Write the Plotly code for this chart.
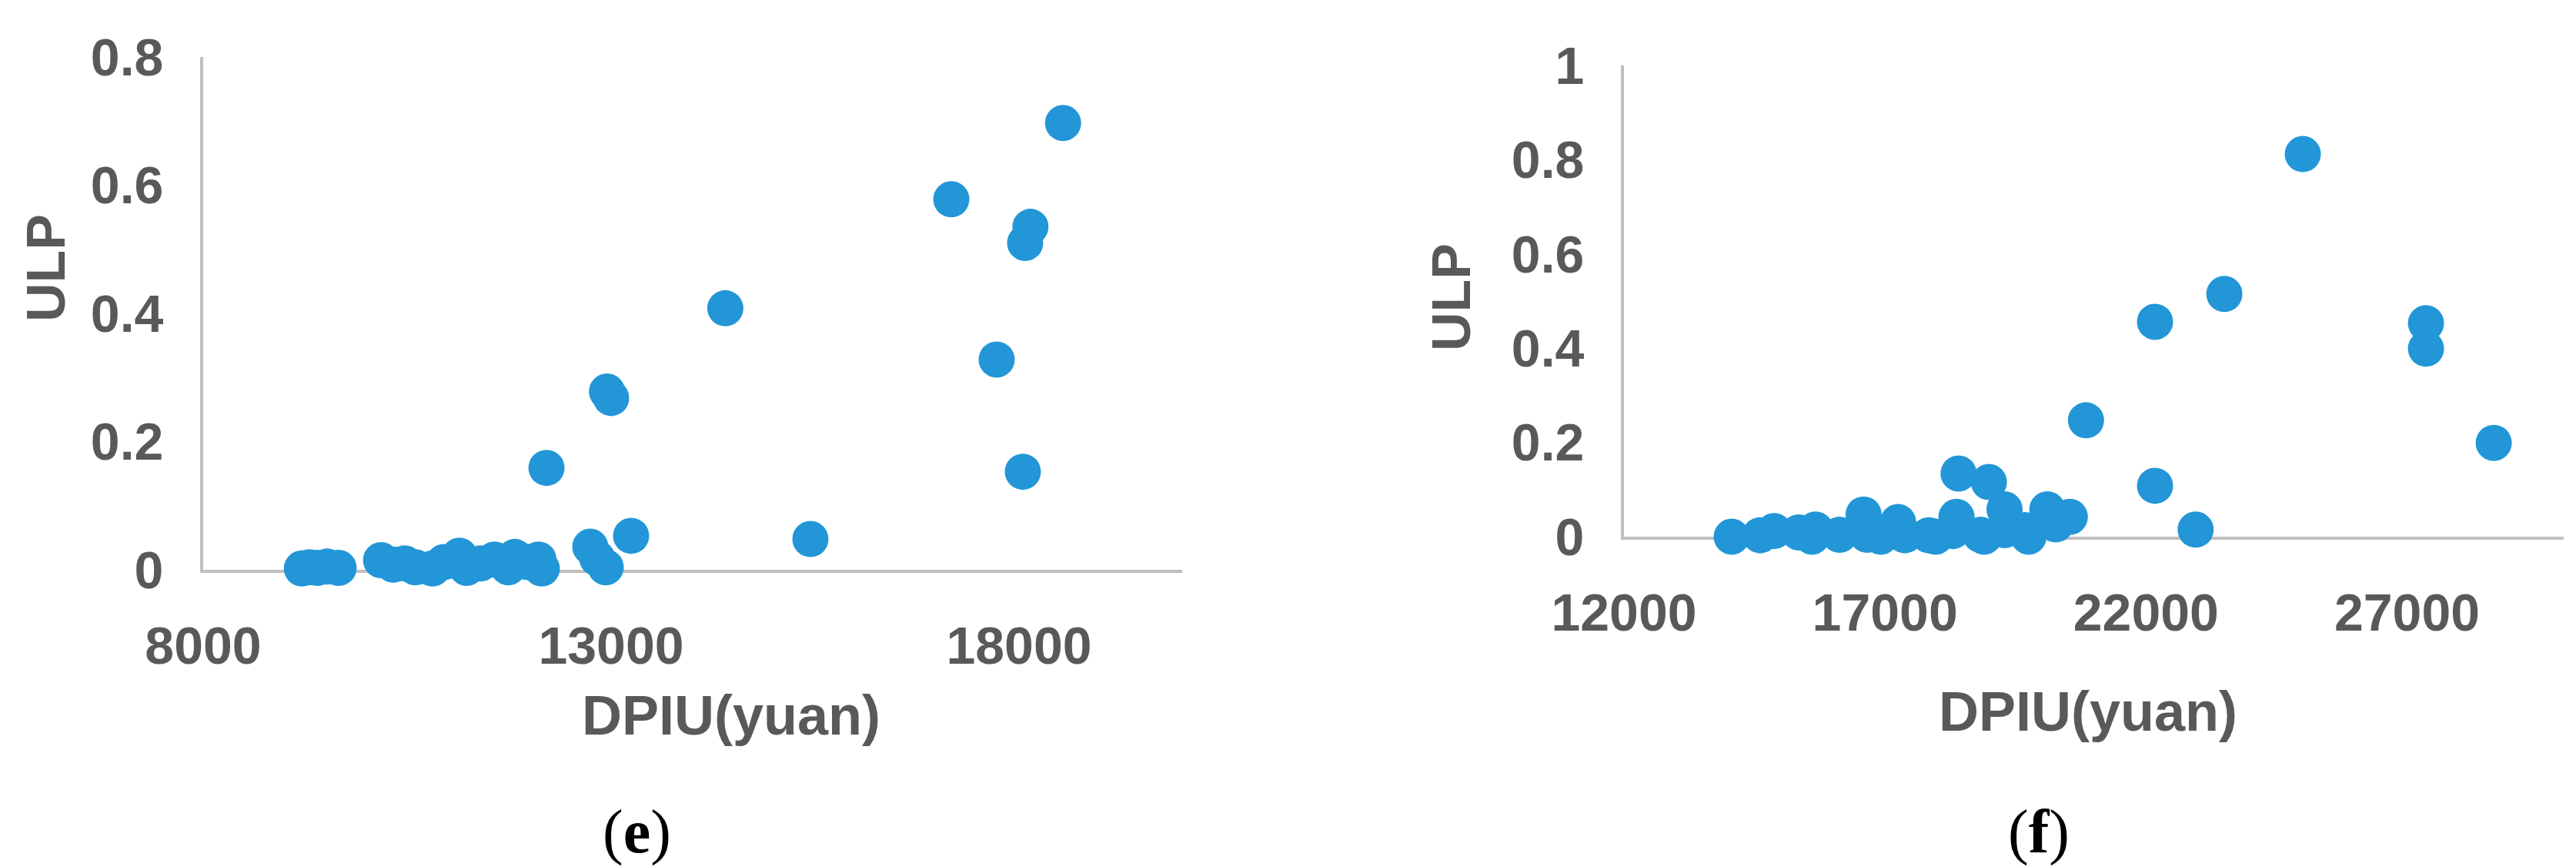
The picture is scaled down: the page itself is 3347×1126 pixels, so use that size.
import plotly.graph_objects as go

# ---------------- data ----------------
# panel (e)
dpiu_e = [9210, 9300, 9400, 9520, 9660,
          10180, 10330, 10470, 10600, 10810, 10950, 11140, 11230, 11400, 11570,
          11740, 11820, 11980, 12110, 12150,
          12208, 12745, 12830, 12934, 12950, 13000, 13245, 14400, 15443,
          17170, 17726, 18047, 18075, 18140, 18540]
ulp_e = [0.002, 0.004, 0.003, 0.005, 0.003,
         0.015, 0.008, 0.010, 0.004, 0.002, 0.012, 0.022, 0.003, 0.010, 0.016,
         0.004, 0.020, 0.012, 0.016, 0.002,
         0.159, 0.036, 0.018, 0.004, 0.278, 0.268, 0.053, 0.408, 0.048,
         0.578, 0.328, 0.153, 0.510, 0.535, 0.697]

# panel (f)
dpiu_f = [14064, 14610, 14875, 15350, 15600, 15670, 16130, 16590, 16660, 16920,
          17250, 17380, 17840, 17970, 18300, 18370, 18830, 18900, 19290, 19290,
          19680, 19750, 20110, 20270, 20540,
          18410, 18990, 20850, 22172, 22172, 22950, 23500, 25003, 27362, 27362, 28660]
ulp_f = [0.000, 0.003, 0.012, 0.009, 0.000, 0.015, 0.004, 0.047, 0.004, 0.000,
         0.031, 0.003, 0.003, 0.000, 0.012, 0.042, 0.004, 0.000, 0.058, 0.014,
         0.014, 0.000, 0.058, 0.026, 0.042,
         0.134, 0.116, 0.247, 0.108, 0.456, 0.015, 0.515, 0.812, 0.453, 0.399, 0.199]

xticks_e = [8000, 13000, 18000]
xtext_e = ["8000", "13000", "18000"]
xticks_f = [12000, 17000, 22000, 27000]
xtext_f = ["12000", "17000", "22000", "27000"]
yticks_e = [0, 0.2, 0.4, 0.6, 0.8]
yticks_f = [0, 0.2, 0.4, 0.6, 0.8, 1]
ytext_e = ["0", "0.2", "0.4", "0.6", "0.8"]
ytext_f = ["0", "0.2", "0.4", "0.6", "0.8", "1"]

x_title = "DPIU(yuan)"
y_title = "ULP"
panel_labels = ["e", "f"]

# ---------------- styling ----------------
W, H = 3347, 1126
BLUE = "#2296D7"
AXIS = "#BFBFBF"
TXT = "#595959"
tickfont = dict(family="Liberation Sans", size=68, color=TXT, weight="bold")

fig = go.Figure()
fig.add_trace(go.Scatter(x=dpiu_e, y=ulp_e, mode="markers", xaxis="x", yaxis="y",
                         marker=dict(size=47, color=BLUE, line=dict(width=0)),
                         cliponaxis=False, showlegend=False))
fig.add_trace(go.Scatter(x=dpiu_f, y=ulp_f, mode="markers", xaxis="x2", yaxis="y2",
                         marker=dict(size=47, color=BLUE, line=dict(width=0)),
                         cliponaxis=False, showlegend=False))

def px_x(p):
    return p / W

def px_y(p):
    return 1 - p / H

common_x = dict(showgrid=False, zeroline=False, showline=True, linecolor=AXIS, linewidth=4,
                ticks="outside", tickcolor="rgba(0,0,0,0)", ticklen=36, tickfont=tickfont,
                layer="below traces", fixedrange=True, automargin=False)
common_y = dict(showgrid=False, zeroline=False, showline=True, linecolor=AXIS, linewidth=4,
                ticks="outside", tickcolor="rgba(0,0,0,0)", ticklen=34, tickfont=tickfont,
                layer="below traces", fixedrange=True, automargin=False)

fig.update_layout(
    template="none",
    width=W, height=H,
    margin=dict(l=0, r=0, t=0, b=0, pad=0, autoexpand=False),
    paper_bgcolor="white", plot_bgcolor="white",
    xaxis=dict(domain=[px_x(256), px_x(1528)], range=[8000, 20000], anchor="y",
               tickmode="array", tickvals=xticks_e, ticktext=xtext_e, **common_x),
    yaxis=dict(domain=[px_y(732), px_y(66)], range=[0, 0.8], anchor="x",
               tickmode="array", tickvals=yticks_e, ticktext=ytext_e, **common_y),
    xaxis2=dict(domain=[px_x(2102), px_x(3323)], range=[12000, 30000], anchor="y2",
                tickmode="array", tickvals=xticks_f, ticktext=xtext_f, **common_x),
    yaxis2=dict(domain=[px_y(689), px_y(77)], range=[0, 1], anchor="x2",
                tickmode="array", tickvals=yticks_f, ticktext=ytext_f, **common_y),
)

title_font = dict(family="Liberation Sans", size=72, color=TXT, weight="bold")
ann = []
# x axis titles
ann.append(dict(text=x_title, x=px_x(942), y=px_y(921), xref="paper", yref="paper",
                xanchor="center", yanchor="middle", showarrow=False, font=title_font))
ann.append(dict(text=x_title, x=px_x(2705), y=px_y(916), xref="paper", yref="paper",
                xanchor="center", yanchor="middle", showarrow=False, font=title_font))
# y axis titles
ann.append(dict(text=y_title, x=px_x(52), y=px_y(340), xref="paper", yref="paper",
                xanchor="center", yanchor="middle", showarrow=False, textangle=-90,
                font=dict(family="Liberation Sans", size=70, color=TXT, weight="bold")))
ann.append(dict(text=y_title, x=px_x(1878), y=px_y(378), xref="paper", yref="paper",
                xanchor="center", yanchor="middle", showarrow=False, textangle=-90,
                font=dict(family="Liberation Sans", size=70, color=TXT, weight="bold")))
# panel labels
for lab, cx in zip(panel_labels, [819, 2641]):
    ann.append(dict(text="(<b>%s</b>)" % lab, x=px_x(cx), y=px_y(1072), xref="paper", yref="paper",
                    xanchor="center", yanchor="middle", showarrow=False,
                    font=dict(family="Liberation Serif", size=80, color="black")))
fig.update_layout(annotations=ann)

fig.write_html("out.html")
